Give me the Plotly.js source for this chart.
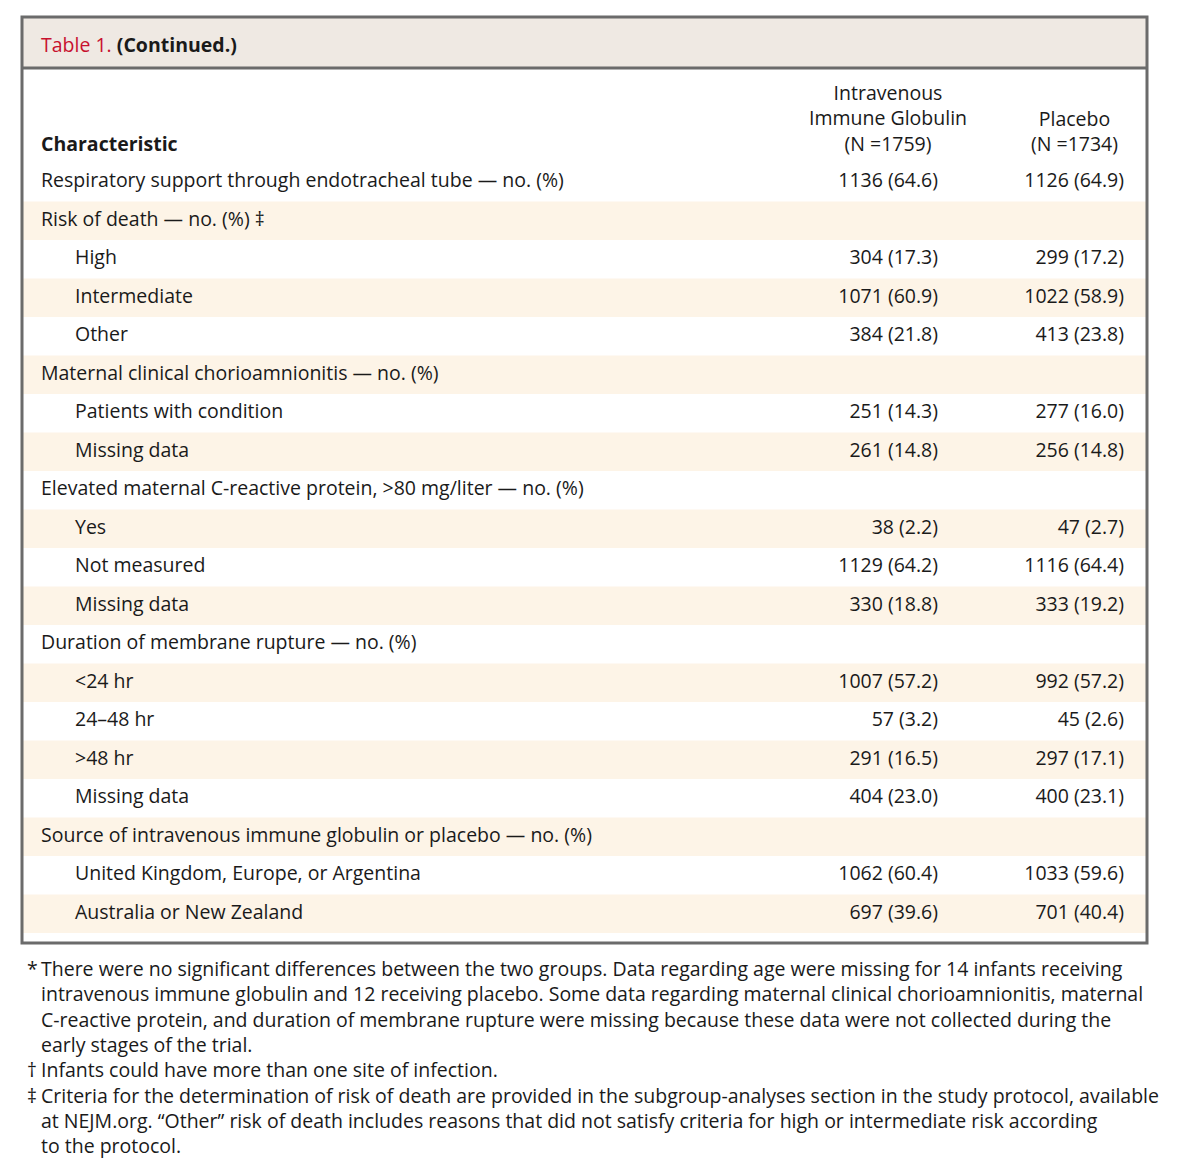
<!DOCTYPE html>
<html><head><meta charset="utf-8">
<script src="https://cdn.plot.ly/plotly-3.0.1.min.js"></script>
<style>body{margin:0;background:#fff}#chart{width:1177px;height:1165px}</style>
</head><body><div id="chart"></div>
<script>
const labels = [
  "Respiratory support through endotracheal tube — no. (%)",
  "Risk of death — no. (%) ‡",
  "High",
  "Intermediate",
  "Other",
  "Maternal clinical chorioamnionitis — no. (%)",
  "Patients with condition",
  "Missing data",
  "Elevated maternal C-reactive protein, &gt;80 mg/liter — no. (%)",
  "Yes",
  "Not measured",
  "Missing data",
  "Duration of membrane rupture — no. (%)",
  "&lt;24 hr",
  "24–48 hr",
  "&gt;48 hr",
  "Missing data",
  "Source of intravenous immune globulin or placebo — no. (%)",
  "United Kingdom, Europe, or Argentina",
  "Australia or New Zealand"
];
const levels = [0,0,1,1,1,0,1,1,0,1,1,1,0,1,1,1,1,0,1,1];
const ivigN =     [1136,null,304,1071,384,null,251,261,null,38,1129,330,null,1007,57,291,404,null,1062,697];
const ivigPct =   [64.6,null,17.3,60.9,21.8,null,14.3,14.8,null,2.2,64.2,18.8,null,57.2,3.2,16.5,23.0,null,60.4,39.6];
const placeboN =  [1126,null,299,1022,413,null,277,256,null,47,1116,333,null,992,45,297,400,null,1033,701];
const placeboPct = [64.9,null,17.2,58.9,23.8,null,16.0,14.8,null,2.7,64.4,19.2,null,57.2,2.6,17.1,23.1,null,59.6,40.4];
const ivigHeader = ["Intravenous","Immune Globulin","(N =1759)"];
const placeboHeader = ["Placebo","(N =1734)"];
const footnoteMarks = ["*", "", "", "", "†", "‡", "", ""];
const footnoteLines = [
  "There were no significant differences between the two groups. Data regarding age were missing for 14 infants receiving",
  "intravenous immune globulin and 12 receiving placebo. Some data regarding maternal clinical chorioamnionitis, maternal",
  "C-reactive protein, and duration of membrane rupture were missing because these data were not collected during the",
  "early stages of the trial.",
  "Infants could have more than one site of infection.",
  "Criteria for the determination of risk of death are provided in the subgroup-analyses section in the study protocol, available",
  "at NEJM.org. “Other” risk of death includes reasons that did not satisfy criteria for high or intermediate risk according",
  "to the protocol."
];

const W = 1177, H = 1165;
const TOP = 163, BOT = 933;          // pixel extent of the body rows
const px = x => x / W;
const py = y => (BOT - y) / (BOT - TOP);
const FONT = "Open Sans";
const FS = 19.5;
const TXT = "#1a1a1a";
const font = {family: FONT, size: FS, color: TXT};
const LINE = 25;

const fmt = (n, p) => n === null ? "" : n + " (" + p.toFixed(1) + ")";
const rows = labels.map((_, i) => i);
const shaded = rows.filter(i => i % 2 === 1);

const traces = [
  {type: "bar", orientation: "h", y: shaded, x: shaded.map(() => 1125), base: 22, width: 1,
   marker: {color: "#fdf4e7", line: {width: 0}}, hoverinfo: "skip"},
  {type: "scatter", mode: "text", x: levels.map(l => l ? 75 : 41), y: rows, text: labels,
   textposition: "middle right", textfont: font, cliponaxis: false, hoverinfo: "skip"},
  {type: "scatter", mode: "text", x: rows.map(() => 938), y: rows, text: ivigN.map((n, i) => fmt(n, ivigPct[i])),
   textposition: "middle left", textfont: font, cliponaxis: false, hoverinfo: "skip"},
  {type: "scatter", mode: "text", x: rows.map(() => 1124), y: rows, text: placeboN.map((n, i) => fmt(n, placeboPct[i])),
   textposition: "middle left", textfont: font, cliponaxis: false, hoverinfo: "skip"}
];

const ann = [];
const A = (x, y, t, anchor, align) => ann.push({x: px(x), y: py(y), xref: "paper", yref: "paper", xanchor: anchor || "left", yanchor: "middle",
  align: align || "left", showarrow: false, text: t, font: font});
A(39, 44, "<span style='color:#c8102e'>Table 1.</span> <b>(Continued.)</b>");
A(39, 143, "<b>Characteristic</b>");
// header blocks: last line sits at y=143
A(888, 143 - LINE * (ivigHeader.length - 1) / 2, ivigHeader.join("<br>"), "center", "center");
A(1074, 143 - LINE * (placeboHeader.length - 1) / 2, placeboHeader.join("<br>"), "center", "center");
// footnotes: first line at y=969
const fnMid = 969 + LINE * (footnoteLines.length - 1) / 2;
A(25, fnMid, footnoteMarks.map(m => m || "\u00a0").join("<br>"));
A(39, fnMid, footnoteLines.join("<br>"));

const shapes = [
  {type: "rect", xref: "paper", yref: "paper", x0: px(22), x1: px(1147), y0: py(68), y1: py(17), fillcolor: "#efe9e3", line: {width: 0}},
  {type: "line", xref: "paper", yref: "paper", x0: px(22), x1: px(1147), y0: py(68), y1: py(68), line: {color: "#6b6b6b", width: 3}},
  {type: "rect", xref: "paper", yref: "paper", x0: px(22), x1: px(1147), y0: py(943), y1: py(17), line: {color: "#6b6b6b", width: 3}}
];

Plotly.newPlot("chart", traces, {
  width: W, height: H,
  margin: {l: 0, r: 0, t: TOP, b: H - BOT, pad: 0},
  paper_bgcolor: "#ffffff", plot_bgcolor: "rgba(0,0,0,0)",
  showlegend: false,
  xaxis: {range: [0, W], visible: false, fixedrange: true},
  yaxis: {range: [labels.length - 0.5, -0.5], visible: false, fixedrange: true},
  annotations: ann,
  shapes: shapes
}, {displayModeBar: false, staticPlot: true});
</script>
</body></html>
